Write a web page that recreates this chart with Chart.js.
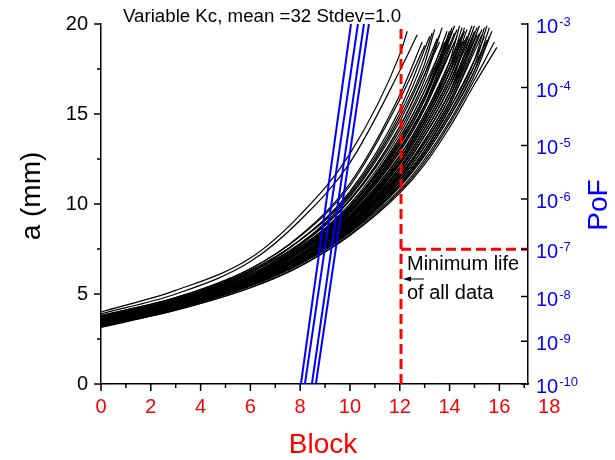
<!DOCTYPE html>
<html>
<head>
<meta charset="utf-8">
<script src="https://cdn.jsdelivr.net/npm/chart.js@4.4.0/dist/chart.umd.min.js"></script>
<style>
  html, body { margin: 0; padding: 0; background: #fff; }
</style>
</head>
<body>
<canvas id="myChart" width="615" height="460"></canvas>
<script>
// crack size a (mm) read at these blocks, one row per simulated specimen
var blockGrid = [0, 3, 6, 8, 10, 12, 13, 14, 15];
var crackSize = [
  [4.0, 5.2, 7.0, 9.4, 12.8, 18.3],
  [3.9, 5.0, 6.8, 9.1, 12.3, 17.4],
  [3.8, 4.8, 6.4, 8.2, 11.0, 15.8],
  [3.7, 4.7, 6.3, 8.0, 10.6, 15.0, 18.2],
  [3.6, 4.6, 6.2, 7.8, 10.4, 14.6, 17.5],
  [3.75, 4.7, 6.2, 7.8, 10.2, 14.1, 16.9],
  [3.5, 4.5, 6.0, 7.6, 10.0, 13.9, 16.6],
  [3.65, 4.6, 6.1, 7.6, 9.9, 13.7, 16.3],
  [3.55, 4.5, 6.0, 7.5, 9.8, 13.5, 16.0],
  [3.4, 4.45, 5.9, 7.45, 9.8, 13.4, 16.0],
  [3.6, 4.55, 6.0, 7.5, 9.7, 13.3, 15.8],
  [3.45, 4.4, 5.85, 7.35, 9.6, 13.05, 15.5],
  [3.7, 4.6, 6.0, 7.45, 9.65, 13.1, 15.5],
  [3.5, 4.45, 5.85, 7.3, 9.5, 12.9, 15.3],
  [3.35, 4.35, 5.75, 7.2, 9.35, 12.65, 15.0, 17.9],
  [3.6, 4.55, 5.9, 7.3, 9.4, 12.7, 15.0, 17.9],
  [3.5, 4.45, 5.8, 7.2, 9.3, 12.5, 14.8, 17.6],
  [3.3, 4.3, 5.7, 7.1, 9.25, 12.5, 14.8, 17.6],
  [3.55, 4.5, 5.8, 7.2, 9.25, 12.35, 14.6, 17.3],
  [3.4, 4.35, 5.7, 7.1, 9.2, 12.35, 14.6, 17.3],
  [3.45, 4.4, 5.75, 7.1, 9.15, 12.2, 14.4, 17.0],
  [3.25, 4.25, 5.6, 7.0, 9.1, 12.2, 14.4, 17.0],
  [3.5, 4.45, 5.75, 7.1, 9.1, 12.05, 14.2, 16.75],
  [3.35, 4.3, 5.65, 7.0, 8.95, 11.9, 14.0, 16.5],
  [3.6, 4.5, 5.8, 7.1, 9.0, 11.9, 14.0, 16.5],
  [3.3, 4.25, 5.6, 6.9, 8.9, 11.7, 13.8, 16.2],
  [3.45, 4.4, 5.7, 7.0, 8.95, 11.75, 13.8, 16.2],
  [3.4, 4.35, 5.6, 6.9, 8.85, 11.6, 13.55, 15.95],
  [3.2, 4.15, 5.5, 6.8, 8.7, 11.45, 13.4, 15.7],
  [3.5, 4.4, 5.65, 6.9, 8.8, 11.5, 13.4, 15.7],
  [3.35, 4.25, 5.55, 6.8, 8.7, 11.3, 13.2, 15.5],
  [3.3, 4.25, 5.5, 6.75, 8.6, 11.2, 13.0, 15.3, 18.0],
  [3.2, 4.15, 5.45, 6.7, 8.5, 11.05, 12.85, 15.05, 17.7],
  [3.4, 4.3, 5.55, 6.75, 8.55, 11.1, 12.85, 15.05, 17.7],
  [3.25, 4.2, 5.45, 6.7, 8.45, 10.95, 12.7, 14.85, 17.4],
  [3.3, 4.2, 5.45, 6.65, 8.4, 10.8, 12.5, 14.6, 17.15],
  [3.15, 4.1, 5.35, 6.55, 8.3, 10.7, 12.35, 14.45, 16.9],
  [3.2, 4.1, 5.35, 6.55, 8.25, 10.6, 12.2, 14.25, 16.65],
  [3.45, 4.5, 6.0, 7.7, 10.2, 14.3, 17.2],
  [3.35, 4.4, 5.9, 7.5, 9.85, 13.65, 16.3],
  [3.3, 4.3, 5.8, 7.35, 9.65, 13.25, 15.8],
  [3.65, 4.55, 5.95, 7.35, 9.55, 12.9, 15.3],
  [3.45, 4.4, 5.8, 7.2, 9.3, 12.5, 14.8, 17.6],
  [3.3, 4.3, 5.65, 7.0, 9.05, 12.0, 14.2, 16.75],
  [3.55, 4.45, 5.75, 7.05, 8.95, 11.75, 13.8, 16.2],
  [3.25, 4.2, 5.5, 6.85, 8.8, 11.55, 13.55, 15.95],
  [3.5, 4.35, 5.65, 6.9, 8.75, 11.35, 13.2, 15.5],
  [3.45, 4.35, 5.6, 6.85, 8.65, 11.2, 13.0, 15.3, 18.0],
  [3.75, 4.65, 6.1, 7.6, 9.85, 13.5, 16.0],
  [3.25, 4.25, 5.6, 7.05, 9.15, 12.3, 14.6, 17.3],
  [3.45, 4.35, 5.6, 6.8, 8.5, 11.0, 12.7, 14.85, 17.4],
  [3.55, 4.5, 5.9, 7.4, 9.6, 13.05, 15.5],
  [3.7, 4.75, 6.4, 8.25, 11.15, 16.05],
  [3.55, 4.6, 6.2, 8.0, 10.7, 15.25],
  [3.8, 4.8, 6.3, 8.0, 10.5, 14.8, 17.8],
  [3.6, 4.6, 6.1, 7.75, 10.25, 14.3, 17.2]
];
// last point of each curve (failure)
var failBlock = [12.3, 12.7, 13.0, 13.3, 13.5, 13.7, 13.8, 13.9, 14.0, 14.0, 14.1, 14.2, 14.2, 14.3,
  14.4, 14.4, 14.5, 14.5, 14.6, 14.6, 14.7, 14.7, 14.8, 14.9, 14.9, 15.0, 15.0, 15.1, 15.2, 15.2,
  15.3, 15.4, 15.5, 15.5, 15.6, 15.7, 15.8, 15.9,
  13.6, 13.9, 14.1, 14.3, 14.5, 14.8, 15.0, 15.1, 15.3, 15.4, 14.0, 14.6, 15.6, 14.2,
  12.9, 13.2, 13.4, 13.6];
var failSize = [19.6, 19.4, 18.8, 19.5, 19.2, 19.8, 19.0, 19.6, 19.3, 18.9, 19.8, 19.5, 19.0, 19.7,
  19.2, 19.9, 19.4, 19.0, 19.6, 19.8, 19.3, 19.7, 19.5, 19.9, 19.1, 19.6, 19.2, 19.8, 19.5, 19.9,
  19.4, 19.8, 19.9, 19.1, 19.3, 19.6, 19.0, 18.7,
  19.4, 19.1, 19.6, 19.3, 19.8, 19.2, 19.9, 19.4, 19.7, 19.3, 19.6, 19.1, 19.8, 19.9,
  19.0, 19.3, 19.7, 19.0];

// PoF lines, block at the bottom (1e-10) and top (1e-3) of the axis
var pofEnds = [1e-10, 1e-3];
var pofBlockLow = [8.03, 8.19, 8.47, 8.63];
var pofBlockHigh = [10.04, 10.32, 10.56, 10.76];

var minLife = 12.05;
var pofTarget = 1e-7;

var blockTicks = [0, 2, 4, 6, 8, 10, 12, 14, 16, 18];
var aTicks = [0, 5, 10, 15, 20];
var pofTicks = [1e-10, 1e-9, 1e-8, 1e-7, 1e-6, 1e-5, 1e-4, 1e-3];
var xMax = 17.15;

var FONT = '"Liberation Sans", Arial, Helvetica, sans-serif';

// inverse normal CDF, lower tail (Acklam) - all PoF values here are tiny
function probit(p) {
  var c = [-7.784894002430293e-03, -3.223964580411365e-01, -2.400758277161838e+00,
           -2.549732539343734e+00, 4.374664141464968e+00, 2.938163982698783e+00];
  var d = [7.784695709041462e-03, 3.224671290700398e-01, 2.445134137142996e+00, 3.754408661907416e+00];
  var q = Math.sqrt(-2 * Math.log(p));
  return (((((c[0]*q + c[1])*q + c[2])*q + c[3])*q + c[4])*q + c[5]) /
         ((((d[0]*q + d[1])*q + d[2])*q + d[3])*q + 1);
}
// probability axis works in percent
function pofAxis(v) { return probit(v / 100); }

var datasets = [];

// red dashed: minimum life and target PoF
datasets.push({
  data: [{x: minLife, y: 0}, {x: minLife, y: 20}],
  borderColor: '#ff0000', borderWidth: 3, borderDash: [10, 5], yAxisID: 'y', order: 0
});
datasets.push({
  data: [{x: minLife, y: pofAxis(pofTarget)}, {x: xMax, y: pofAxis(pofTarget)}],
  borderColor: '#ff0000', borderWidth: 3, borderDash: [10, 5], yAxisID: 'y2', order: 0
});

// blue PoF lines
for (var k = 0; k < pofBlockLow.length; k++) {
  datasets.push({
    data: [{x: pofBlockLow[k], y: pofAxis(pofEnds[0])}, {x: pofBlockHigh[k], y: pofAxis(pofEnds[1])}],
    borderColor: '#0000ff', borderWidth: 2, yAxisID: 'y2', order: 1
  });
}

// black crack growth curves
crackSize.forEach(function (row, i) {
  var pts = row.map(function (a, j) { return {x: blockGrid[j], y: a}; });
  pts.push({x: failBlock[i], y: failSize[i]});
  datasets.push({
    data: pts, borderColor: '#000000', borderWidth: 1.2,
    cubicInterpolationMode: 'monotone', yAxisID: 'y', order: 2
  });
});

var extras = {
  id: 'extras',
  afterDraw: function (chart) {
    var ctx = chart.ctx;
    var area = chart.chartArea;
    var sx = chart.scales.x, sy = chart.scales.y, sy2 = chart.scales.y2;
    ctx.save();
    ctx.strokeStyle = '#000';
    ctx.lineWidth = 1.5;
    ctx.beginPath();
    // left axis ticks (outward)
    for (var v = 0; v <= 20; v += 2.5) {
      var py = sy.getPixelForValue(v);
      var len = (v % 5 === 0) ? 7 : 4;
      ctx.moveTo(area.left - len, py); ctx.lineTo(area.left, py);
    }
    // bottom axis ticks (outward)
    for (var b = 0; b <= xMax; b += 1) {
      var px = sx.getPixelForValue(b);
      var l2 = (b % 2 === 0) ? 7 : 4;
      ctx.moveTo(px, area.bottom); ctx.lineTo(px, area.bottom + l2);
    }
    // right axis ticks (inward)
    pofTicks.forEach(function (p) {
      var py = sy2.getPixelForValue(pofAxis(p));
      ctx.moveTo(area.right - 7, py); ctx.lineTo(area.right, py);
    });
    ctx.stroke();

    // right axis labels 10^-n
    ctx.fillStyle = '#0000ff';
    ctx.textAlign = 'left';
    ctx.textBaseline = 'alphabetic';
    pofTicks.forEach(function (p) {
      var py = sy2.getPixelForValue(pofAxis(p));
      var expo = String(Math.round(Math.log10(p)));
      ctx.font = '20px ' + FONT;
      ctx.fillText('10', area.right + 8, py + 9);
      var w = ctx.measureText('10').width;
      ctx.font = '13px ' + FONT;
      ctx.fillText(expo, area.right + 8 + w + 1, py + 2);
    });

    // axis titles
    ctx.font = '28px ' + FONT;
    ctx.textAlign = 'center';
    ctx.textBaseline = 'middle';
    ctx.save();
    ctx.translate(599, 205);
    ctx.rotate(-Math.PI / 2);
    ctx.fillText('PoF', 0, 0);
    ctx.restore();

    ctx.fillStyle = '#000';
    ctx.save();
    ctx.translate(32, 196);
    ctx.rotate(-Math.PI / 2);
    ctx.fillText('a (mm)', 0, 0);
    ctx.restore();

    ctx.fillStyle = '#ff0000';
    ctx.fillText('Block', 323, 445);

    // chart title
    ctx.fillStyle = '#000';
    ctx.font = '18.7px ' + FONT;
    ctx.textAlign = 'left';
    ctx.textBaseline = 'alphabetic';
    ctx.fillText('Variable Kc, mean =32 Stdev=1.0', 123, 21.5);

    // annotation
    ctx.font = '20px ' + FONT;
    ctx.fillText('Minimum life', 407, 270);
    ctx.fillText('of all data', 407, 299);
    var ax = sx.getPixelForValue(minLife) + 2;
    ctx.lineWidth = 1;
    ctx.beginPath();
    ctx.moveTo(ax + 21, 279); ctx.lineTo(ax + 6, 279);
    ctx.stroke();
    ctx.beginPath();
    ctx.moveTo(ax, 279); ctx.lineTo(ax + 8, 276.5); ctx.lineTo(ax + 8, 281.5);
    ctx.closePath();
    ctx.fill();
    ctx.restore();
  }
};

new Chart(document.getElementById('myChart'), {
  type: 'line',
  data: { datasets: datasets },
  options: {
    responsive: false,
    animation: false,
    events: [],
    layout: { padding: { left: 0, right: 0, top: 24, bottom: 0 } },
    elements: { point: { radius: 0 }, line: { tension: 0 } },
    plugins: { legend: { display: false }, tooltip: { enabled: false } },
    scales: {
      x: {
        type: 'linear', min: 0, max: xMax,
        afterBuildTicks: function (s) { s.ticks = blockTicks.map(function (v) { return {value: v}; }); },
        afterFit: function (s) { s.height = 76; },
        ticks: { color: '#ff0000', font: { family: FONT, size: 20 }, padding: 4, autoSkip: false, maxRotation: 0 },
        grid: { display: false, drawTicks: true, tickLength: 7 },
        border: { display: true, color: '#000', width: 1.5 }
      },
      y: {
        type: 'linear', position: 'left', min: 0, max: 20,
        afterBuildTicks: function (s) { s.ticks = aTicks.map(function (v) { return {value: v}; }); },
        afterFit: function (s) { s.width = 101; },
        ticks: { color: '#000', font: { family: FONT, size: 20 }, padding: 6 },
        grid: { display: false, drawTicks: true, tickLength: 7 },
        border: { display: true, color: '#000', width: 1.5 }
      },
      y2: {
        type: 'linear', position: 'right', min: pofAxis(pofEnds[0]), max: pofAxis(pofEnds[1]),
        afterFit: function (s) { s.width = 87; },
        ticks: { display: false },
        grid: { display: false, drawTicks: false },
        border: { display: true, color: '#000', width: 1.5 }
      }
    }
  },
  plugins: [extras]
});
</script>
</body>
</html>
